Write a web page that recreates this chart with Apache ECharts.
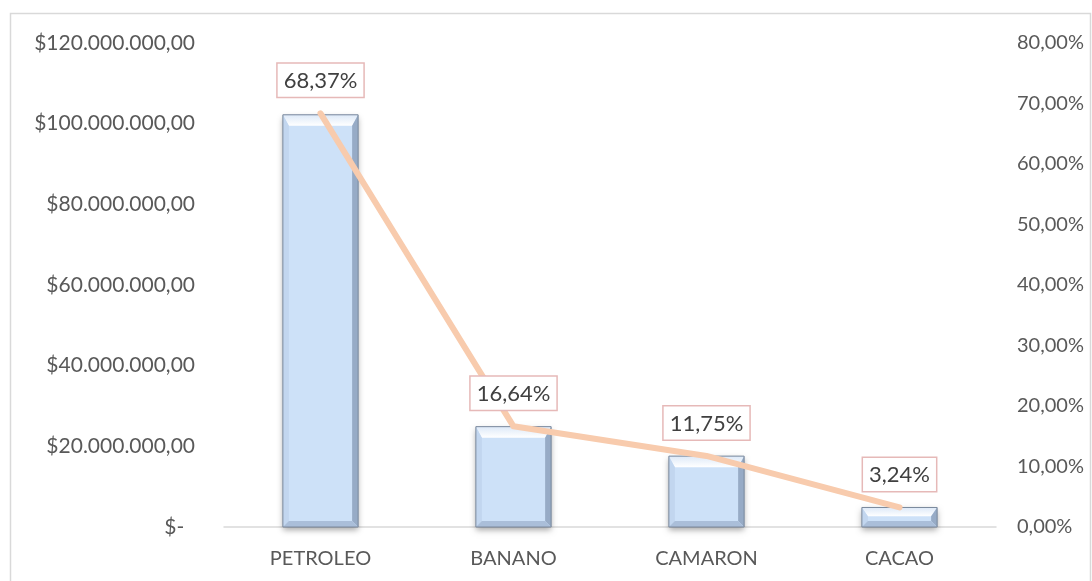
<!DOCTYPE html>
<html>
<head>
<meta charset="utf-8">
<script src="https://cdn.jsdelivr.net/npm/echarts@6/dist/echarts.min.js"></script>
<style>
  html, body { margin: 0; padding: 0; background: #fff; }
  #chart { width: 1092px; height: 581px; }
</style>
</head>
<body>
<div id="chart"></div>
<script>
var categories = ['PETROLEO', 'BANANO', 'CAMARON', 'CACAO']
var ventas = [102200000, 24880000, 17570000, 4840000]
var porcentajes = [0.6837, 0.1664, 0.1175, 0.0324]

var FONT = 'Lato'
var TEXT = '#595959'

function money(v) {
  if (v === 0) return '$-\u00a0\u00a0'
  var s = String(Math.round(v)).replace(/\B(?=(\d{3})+(?!\d))/g, '.')
  return '$' + s + ',00'
}

function pct(v) {
  return (v * 100).toFixed(2).replace('.', ',') + '%'
}

// barra con efecto bisel
function renderBevel(params, api) {
  var idx = api.value(0)
  var top = api.coord([idx, api.value(1)])
  var base = api.coord([idx, 0])
  var w = api.size([1, 0])[0] * 0.39
  var x0 = top[0] - w / 2
  var x1 = top[0] + w / 2
  var y0 = top[1]
  var y1 = base[1]
  var h = y1 - y0
  var b = Math.min(6, h / 3)
  var bt = Math.min(11, h / 2.2)
  return {
    type: 'group',
    children: [
      {
        type: 'rect',
        shape: { x: x0, y: y0, width: w, height: h },
        style: { fill: '#CDE1F8', shadowBlur: 6, shadowOffsetY: 3, shadowColor: 'rgba(0,0,0,0.35)' }
      },
      {
        type: 'polygon',
        shape: { points: [[x0, y0], [x1, y0], [x1 - b, y0 + bt], [x0 + b, y0 + bt]] },
        style: {
          fill: new echarts.graphic.LinearGradient(0, 0, 0, 1, [
            { offset: 0, color: '#DDE9F8' },
            { offset: 1, color: '#FFFFFF' }
          ])
        }
      },
      {
        type: 'polygon',
        shape: { points: [[x0, y0], [x0 + b, y0 + bt], [x0 + b, y1 - b], [x0, y1]] },
        style: { fill: '#C2D6EF' }
      },
      {
        type: 'polygon',
        shape: { points: [[x1, y0], [x1, y1], [x1 - b, y1 - b], [x1 - b, y0 + bt]] },
        style: { fill: '#97ABC6' }
      },
      {
        type: 'polygon',
        shape: { points: [[x0, y1], [x1, y1], [x1 - b, y1 - b], [x0 + b, y1 - b]] },
        style: { fill: '#AABED9' }
      },
      {
        type: 'rect',
        shape: { x: x0, y: y0, width: w, height: h },
        style: { fill: 'none', stroke: '#7A889C', lineWidth: 1 }
      }
    ]
  }
}

var chart = echarts.init(document.getElementById('chart'))

var option = {
  backgroundColor: '#fff',
  animation: false,
  graphic: [
    {
      type: 'rect',
      shape: { x: 10.5, y: 13.5, width: 1080, height: 600 },
      style: { fill: 'none', stroke: '#D9D9D9', lineWidth: 1.5 },
      z: -1
    }
  ],
  grid: {
    left: 224,
    right: 96,
    top: 43,
    bottom: 54
  },
  xAxis: {
    type: 'category',
    data: categories,
    axisTick: { show: false },
    axisLine: { show: true, lineStyle: { color: '#D9D9D9', width: 1.5 } },
    axisLabel: { color: TEXT, fontFamily: FONT, fontSize: 20, margin: 22 }
  },
  yAxis: [
    {
      type: 'value',
      min: 0,
      max: 120000000,
      interval: 20000000,
      axisLine: { show: false },
      axisTick: { show: false },
      splitLine: { show: false },
      axisLabel: { color: TEXT, fontFamily: FONT, fontSize: 21, margin: 29, formatter: money }
    },
    {
      type: 'value',
      min: 0,
      max: 0.8,
      interval: 0.1,
      axisLine: { show: false },
      axisTick: { show: false },
      splitLine: { show: false },
      axisLabel: { color: TEXT, fontFamily: FONT, fontSize: 20, margin: 21, formatter: pct }
    }
  ],
  series: [
    {
      type: 'custom',
      renderItem: renderBevel,
      encode: { x: 0, y: 1 },
      data: ventas.map(function (v, i) { return [i, v] }),
      z: 2
    },
    {
      type: 'line',
      yAxisIndex: 1,
      data: porcentajes,
      symbol: 'circle',
      symbolSize: 1,
      showSymbol: true,
      itemStyle: { color: 'rgba(0,0,0,0)' },
      lineStyle: { color: '#F8CBAD', width: 6, cap: 'round', join: 'round' },
      z: 3,
      label: {
        show: true,
        position: 'top',
        distance: 16,
        formatter: function (p) { return pct(p.value) },
        color: '#404040',
        fontFamily: FONT,
        fontSize: 22,
        backgroundColor: '#fff',
        borderColor: '#E6B9B8',
        borderWidth: 1.5,
        padding: [6, 6, 5, 6]
      }
    }
  ]
}

chart.setOption(option)
</script>
</body>
</html>
